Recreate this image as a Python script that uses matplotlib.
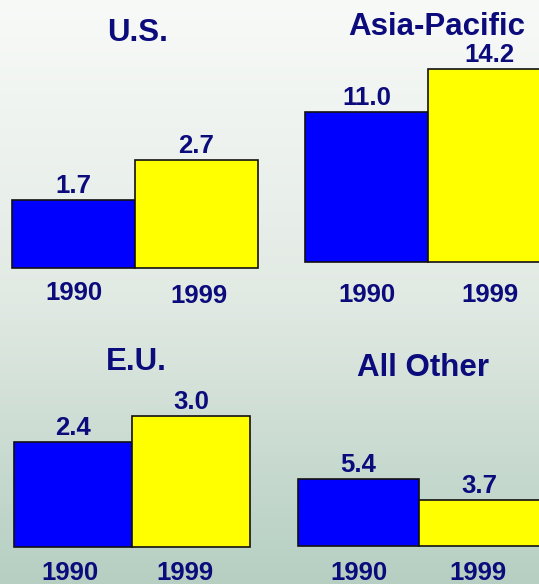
import numpy as np
import matplotlib
matplotlib.use("Agg")
import matplotlib.pyplot as plt

W, H = 539, 584
DPI = 100

regions = ["U.S.", "Asia-Pacific", "E.U.", "All Other"]
years = ["1990", "1999"]
values_1990 = [1.7, 11.0, 2.4, 5.4]
values_1999 = [2.7, 14.2, 3.0, 3.7]

TEXT = "#0b0b7c"
BAR_COLORS = ["#0000ff", "#ffff00"]

# panel placement in pixels: left edge, baseline, bar width, pixels per unit,
# title centre x / baseline y, tick label distance below the baseline
panels = [
    dict(left=12, base=268, bar=123, scale=40.0, title=(138, 41), tick_pad=(32, 35)),
    dict(left=305, base=262, bar=123, scale=13.6, title=(437, 35), tick_pad=(40, 40)),
    dict(left=14, base=547, bar=118, scale=43.7, title=(136, 370), tick_pad=(33, 33)),
    dict(left=298, base=546, bar=121, scale=12.4, title=(423, 376), tick_pad=(34, 34)),
]
# small horizontal nudges of the year labels (pixels)
tick_shift = [(0, 2), (0, 0), (-3, -6), (0, -2)]


def px_to_pt(px):
    return px * 72.0 / DPI


plt.rcParams["font.family"] = ["Liberation Sans", "DejaVu Sans"]
plt.rcParams["font.weight"] = "bold"

fig = plt.figure(figsize=(W / DPI, H / DPI), dpi=DPI)

# Background gradient (light at top, grey-green at bottom)
bg = fig.add_axes([0, 0, 1, 1], zorder=-1)
yy = np.linspace(0, 1, 300)
stops_y = [0.0, 0.5, 1.0]
stops_c = np.array([[248, 250, 248], [226, 234, 228], [182, 207, 194]]) / 255.0
grad = np.stack([np.interp(yy, stops_y, stops_c[:, k]) for k in range(3)], axis=-1)
bg.imshow(grad[:, None, :], aspect="auto", extent=[0, 1, 1, 0])
bg.set_xlim(0, 1)
bg.set_ylim(1, 0)
bg.axis("off")

for k, p in enumerate(panels):
    vals = [values_1990[k], values_1999[k]]
    ymax = max(vals) * 1.5
    ax = fig.add_axes([p["left"] / W, 1 - p["base"] / H,
                       2 * p["bar"] / W, ymax * p["scale"] / H])
    ax.set_xlim(-0.5, 1.5)
    ax.set_ylim(0, ymax)
    ax.axis("off")
    ax.bar([0, 1], vals, width=1.0, color=BAR_COLORS, edgecolor="#111111",
           linewidth=1.2, clip_on=False)
    for i, v in enumerate(vals):
        ax.annotate(f"{v:.1f}", xy=(i, v), xytext=(0, px_to_pt(7)),
                    textcoords="offset points", ha="center", va="baseline",
                    fontsize=18.5, color=TEXT, fontweight="bold",
                    annotation_clip=False)
        ax.annotate(years[i], xy=(i, 0),
                    xytext=(px_to_pt(tick_shift[k][i]), -px_to_pt(p["tick_pad"][i])),
                    textcoords="offset points", ha="center", va="baseline",
                    fontsize=18.5, color=TEXT, fontweight="bold",
                    annotation_clip=False)
    tx, ty = p["title"]
    fig.text(tx / W, 1 - ty / H, regions[k], ha="center", va="baseline",
             fontsize=22.5, color=TEXT, fontweight="bold")

fig.savefig("out.png", dpi=DPI)
